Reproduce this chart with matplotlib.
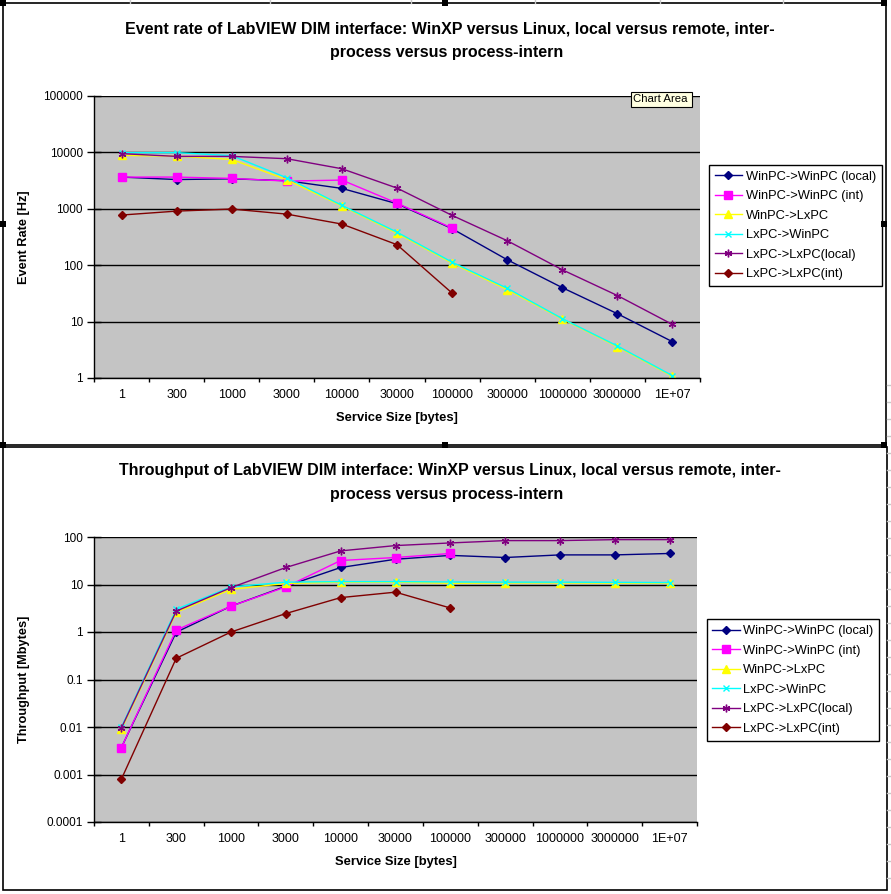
import matplotlib
matplotlib.use('Agg')
import matplotlib.pyplot as plt
from matplotlib.patches import Rectangle
from matplotlib.lines import Line2D
import numpy as np

plt.rcParams['font.family'] = ['Liberation Sans', 'DejaVu Sans']

# ---- data ----
sizes = ['1', '300', '1000', '3000', '10000', '30000', '100000', '300000',
         '1000000', '3000000', '1E+07']
series_names = ['WinPC->WinPC (local)', 'WinPC->WinPC (int)', 'WinPC->LxPC',
                'LxPC->WinPC', 'LxPC->LxPC(local)', 'LxPC->LxPC(int)']

# event rate [Hz]
rate_winwin_local = [3650, 3300, 3400, 3150, 2300, 1230, 444, 125, 40, 13.8, 4.4]
rate_winwin_int = [3650, 3650, 3460, 3100, 3230, 1260, 455]
rate_winlx = [8850, 8600, 7500, 3280, 1120, 370, 109, 37, 11.1, 3.6, 1.07]
rate_lxwin = [9900, 9900, 8750, 3550, 1150, 385, 113, 39, 11.3, 3.7, 1.1]
rate_lxlx_local = [9500, 8500, 8500, 7730, 5130, 2330, 764, 272, 83, 29, 8.9]
rate_lxlx_int = [775, 910, 990, 805, 536, 231, 32]

# throughput [Mbytes]
tp_winwin_local = [0.0037, 0.99, 3.5, 9.2, 22.8, 34, 41, 37, 42, 42, 45]
tp_winwin_int = [0.0037, 1.1, 3.5, 8.9, 32, 37, 45]
tp_winlx = [0.0089, 2.6, 7.9, 10.5, 11.2, 11.2, 10.6, 10.8, 10.8, 10.7, 10.7]
tp_lxwin = [0.0099, 3.0, 8.9, 11.2, 11.5, 11.5, 11.3, 11.2, 11.2, 11.1, 11.0]
tp_lxlx_local = [0.0095, 2.75, 8.6, 22.8, 51, 66, 75, 84, 84, 88, 88]
tp_lxlx_int = [0.0008, 0.28, 1.0, 2.45, 5.3, 6.9, 3.2]

rates = [rate_winwin_local, rate_winwin_int, rate_winlx, rate_lxwin,
         rate_lxlx_local, rate_lxlx_int]
tputs = [tp_winwin_local, tp_winwin_int, tp_winlx, tp_lxwin,
         tp_lxlx_local, tp_lxlx_int]

# excel-ish styles
styles = [
    dict(color='#000080', marker='D', ms=4.5),
    dict(color='#FF00FF', marker='s', ms=5.5),
    dict(color='#FFFF00', marker='^', ms=6),
    dict(color='#00FFFF', marker='x', ms=4, mew=1),
    dict(color='#800080', marker=(6, 2, 0), ms=5.5, mew=1),
    dict(color='#800000', marker='D', ms=4.5),
]

W, H = 891, 894
fig = plt.figure(figsize=(W / 100, H / 100), dpi=100)
fig.patch.set_facecolor('white')


def px_rect(l, t, r, b):
    return [l / W, 1 - b / H, (r - l) / W, (b - t) / H]


def fx(x):
    return x / W


def fy(y):
    return 1 - y / H


# faint spreadsheet grid peeking around the charts
for xg in [130, 270, 411, 535, 660, 783]:
    fig.add_artist(Line2D([fx(xg), fx(xg)], [fy(0), fy(3)], color='#c8c8c8', lw=1))
for yg in np.arange(385, 894, 17):
    fig.add_artist(Line2D([fx(887), fx(891)], [fy(yg), fy(yg)], color='#c8c8c8', lw=1))

# chart borders
fig.add_artist(Rectangle((fx(3), fy(445)), fx(883), (442) / H, transform=fig.transFigure,
                         fill=False, ec='black', lw=1.2))
fig.add_artist(Rectangle((fx(3), fy(890)), fx(884), (443) / H, transform=fig.transFigure,
                         fill=False, ec='black', lw=1.2))
# selection handles of the top chart
for hx in [3, 445, 884]:
    for hy in [3, 224, 445]:
        if hx == 445 and hy == 224:
            continue
        fig.add_artist(Rectangle((fx(hx - 3), fy(hy + 3)), 6 / W, 6 / H,
                                 transform=fig.transFigure, fc='black', ec='none'))


def setup_axes(ax, ylim, yticks, ylabels):
    x = np.arange(len(sizes))
    ax.set_facecolor('#c4c4c4')
    ax.set_yscale('log')
    ax.set_ylim(*ylim)
    ax.set_xlim(-0.5, len(sizes) - 0.5)
    ax.set_yticks(yticks)
    ax.set_yticklabels(ylabels)
    ax.yaxis.set_minor_locator(matplotlib.ticker.NullLocator())
    ax.set_xticks(np.arange(-0.5, len(sizes)), minor=False)
    ax.set_xticklabels([])
    ax.set_xticks(x, minor=True)
    ax.set_xticklabels(sizes, minor=True)
    ax.tick_params(axis='x', which='major', direction='out', length=3, width=1)
    ax.tick_params(axis='x', which='minor', length=0, pad=8, labelsize=9)
    ax.tick_params(axis='y', which='major', direction='inout', length=10, width=1,
                   pad=3, labelsize=8.5)
    for s in ['top', 'right']:
        ax.spines[s].set_visible(False)
    ax.spines['left'].set_linewidth(1)
    ax.spines['bottom'].set_linewidth(1)
    ax.grid(axis='y', which='major', color='black', lw=1)
    ax.set_axisbelow(True)


def add_legend(ax, cx, cy):
    leg = ax.legend(loc='center', bbox_to_anchor=(fx(cx), fy(cy)),
                    bbox_transform=fig.transFigure, fontsize=9.3, frameon=True,
                    fancybox=False, edgecolor='black', framealpha=1,
                    handlelength=2.1, handletextpad=0.3, labelspacing=0.58,
                    borderpad=0.45, borderaxespad=0)
    leg.get_frame().set_linewidth(1)
    return leg


# ---- top chart: event rate ----
ax1 = fig.add_axes(px_rect(94, 96, 700, 378))
setup_axes(ax1, (1, 100000), [1, 10, 100, 1000, 10000, 100000],
           ['1', '10', '100', '1000', '10000', '100000'])
for vals, st, name in zip(rates, styles, series_names):
    ax1.plot(np.arange(len(vals)), vals, lw=1, label=name, **st)
ax1.set_xlabel('Service Size [bytes]', fontsize=9.4, fontweight='bold', labelpad=8)
ax1.set_ylabel('Event Rate [Hz]', fontsize=9.2, fontweight='bold')
ax1.yaxis.set_label_coords(fx(30 - 94) / fx(606), 0.5)
add_legend(ax1, 795.5, 225.5)

fig.text(fx(450), fy(29), 'Event rate of LabVIEW DIM interface: WinXP versus Linux, local versus remote, inter-',
         ha='center', va='center', fontsize=11.5, fontweight='bold')
fig.text(fx(447), fy(53), 'process versus process-intern',
         ha='center', va='center', fontsize=11.5, fontweight='bold')

# "Chart Area" tooltip
fig.add_artist(Rectangle((fx(631), fy(107)), 61 / W, 15 / H, transform=fig.transFigure,
                         fc='#FFFFE1', ec='black', lw=0.8, zorder=10))
fig.text(fx(633), fy(99.5), 'Chart Area', ha='left', va='center', fontsize=8.2, zorder=11)

# ---- bottom chart: throughput ----
ax2 = fig.add_axes(px_rect(94, 537, 697, 822))
setup_axes(ax2, (0.0001, 100), [0.0001, 0.001, 0.01, 0.1, 1, 10, 100],
           ['0.0001', '0.001', '0.01', '0.1', '1', '10', '100'])
for vals, st, name in zip(tputs, styles, series_names):
    ax2.plot(np.arange(len(vals)), vals, lw=1, label=name, **st)
ax2.set_xlabel('Service Size [bytes]', fontsize=9.4, fontweight='bold', labelpad=8)
ax2.set_ylabel('Throughput [Mbytes]', fontsize=9.2, fontweight='bold')
ax2.yaxis.set_label_coords(fx(30 - 94) / fx(603), 0.5)
add_legend(ax2, 793, 680)

fig.text(fx(450), fy(470), 'Throughput of LabVIEW DIM interface: WinXP versus Linux, local versus remote, inter-',
         ha='center', va='center', fontsize=11.5, fontweight='bold')
fig.text(fx(447), fy(494), 'process versus process-intern',
         ha='center', va='center', fontsize=11.5, fontweight='bold')

fig.savefig('out.png', dpi=100)
